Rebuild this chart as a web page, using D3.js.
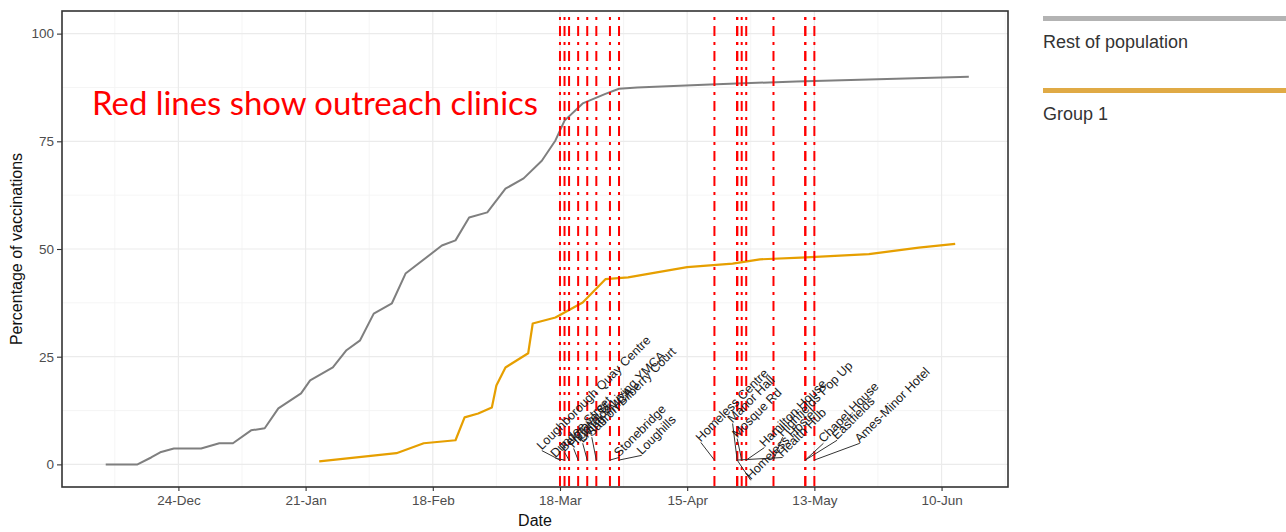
<!doctype html>
<html lang="en">
<head>
  <meta charset="utf-8">
  <title>Vaccination uptake and outreach clinics</title>
  <style>
    body { margin: 0; background: #fff; }
    svg { display: block; }
  </style>
</head>
<body>
  <script src="https://cdn.jsdelivr.net/npm/d3@7"></script>
  <script>
    // ---- data ----
    const restDates = ['2020-12-08', '2020-12-15', '2020-12-18', '2020-12-20', '2020-12-23', '2020-12-29',
                       '2021-01-02', '2021-01-05', '2021-01-09', '2021-01-12', '2021-01-15', '2021-01-20',
                       '2021-01-22', '2021-01-27', '2021-01-30', '2021-02-02', '2021-02-05', '2021-02-09',
                       '2021-02-12', '2021-02-20', '2021-02-23', '2021-02-26', '2021-03-02', '2021-03-06',
                       '2021-03-10', '2021-03-14', '2021-03-17', '2021-03-19', '2021-03-23', '2021-03-28',
                       '2021-03-31', '2021-04-04', '2021-04-20', '2021-05-09', '2021-06-16'];
    const restValues = [0, 0, 1.6, 2.8, 3.7, 3.7,
                        4.9, 4.9, 7.9, 8.4, 13.0, 16.5,
                        19.5, 22.5, 26.5, 28.8, 35.0, 37.4,
                        44.3, 50.8, 52.0, 57.3, 58.5, 64.0,
                        66.4, 70.5, 75.2, 79.8, 83.8, 86.0,
                        87.2, 87.5, 88.2, 88.9, 90.0];

    const groupDates = ['2021-01-24', '2021-02-10', '2021-02-16', '2021-02-23', '2021-02-25', '2021-02-28',
                        '2021-03-03', '2021-03-04', '2021-03-06', '2021-03-11', '2021-03-12', '2021-03-17',
                        '2021-03-23', '2021-03-28', '2021-04-02', '2021-04-08', '2021-04-15', '2021-04-25',
                        '2021-05-01', '2021-05-10', '2021-05-25', '2021-06-05', '2021-06-13'];
    const groupValues = [0.7, 2.6, 4.9, 5.6, 10.9, 11.8,
                         13.2, 18.3, 22.5, 25.8, 32.7, 34.1,
                         37.6, 43.0, 43.4, 44.5, 45.8, 46.6,
                         47.6, 48.0, 48.8, 50.3, 51.2];

    const clinicDates = ['2021-03-18', '2021-03-19', '2021-03-20', '2021-03-22', '2021-03-24', '2021-03-26',
                         '2021-03-29', '2021-03-31', '2021-04-21', '2021-04-26', '2021-04-27', '2021-04-28',
                         '2021-04-26', '2021-05-04', '2021-04-26', '2021-05-11', '2021-05-11', '2021-05-13'];
    const clinicNames = ['Loughborough Quay Centre', 'Dundee Street', 'Belgrave St', 'Highfields Living YMCA',
                         'Living YMCA', 'Saffron Bilberry Court', 'Stonebridge', 'Loughills',
                         'Homeless Centre', 'Manor Hall', 'Mosque Rd', 'Hamilton House',
                         'Homeless Hostel', 'Highfields Pop Up', 'Health Hub', 'Chapel House',
                         'Eastfields', 'Ames-Minor Hotel'];
    // where the repelled labels ended up (data units)
    const labelDates = ['2021-03-14', '2021-03-17', '2021-03-19', '2021-03-21', '2021-03-23', '2021-03-25',
                        '2021-03-31', '2021-04-05', '2021-04-18', '2021-04-25', '2021-04-26', '2021-05-02',
                        '2021-04-29', '2021-05-06', '2021-05-06', '2021-05-15', '2021-05-18', '2021-05-23'];
    const labelValues = [3.2, 1.4, 2.8, 3.7, 4.9, 6.3,
                         1.6, 2.1, 5.1, 9.5, 6.0, 3.9,
                         -3.7, 6.3, 1.6, 4.9, 5.6, 4.9];

    const xTickDates = ['2020-12-24', '2021-01-21', '2021-02-18', '2021-03-18', '2021-04-15', '2021-05-13', '2021-06-10'];
    const xTickLabels = ['24-Dec', '21-Jan', '18-Feb', '18-Mar', '15-Apr', '13-May', '10-Jun'];
    const yTicks = [0, 25, 50, 75, 100];

    const seriesNames = ['Rest of population', 'Group 1'];

    // ---- layout ----
    const w = 1286;
    const h = 532;
    const panel = { left: 62, right: 1008, top: 11, bottom: 487 };
    const lineColors = ['#7f7f7f', '#e69f00'];
    const legendColors = ['#b3b3b3', '#e0aa45'];

    const parse = d3.utcParse('%Y-%m-%d');

    const xScale = d3.scaleUtc()
                     .domain([new Date(Date.UTC(2020, 10, 28, 9)), new Date(Date.UTC(2021, 5, 24, 15))])
                     .range([panel.left, panel.right]);

    const yScale = d3.scaleLinear()
                     .domain([-5.25, 105.25])
                     .range([panel.bottom, panel.top]);

    const svg = d3.select('body')
                  .append('svg')
                  .attr('width', w)
                  .attr('height', h);

    svg.append('rect').attr('width', w).attr('height', h).attr('fill', '#fff');

    // Grid lines (major and minor, theme_bw style)
    const grid = svg.append('g');
    const xMajor = xTickDates.map(parse);
    const xMinor = [];
    for (let i = -1; i < xMajor.length; i++) {
      const a = i < 0 ? d3.utcDay.offset(xMajor[0], -28) : xMajor[i];
      xMinor.push(d3.utcDay.offset(a, 14));
    }
    const yMinor = yTicks.slice(0, -1).map((d) => d + 12.5);

    grid.selectAll('.xminor')
        .data(xMinor.filter((d) => xScale(d) > panel.left && xScale(d) < panel.right))
        .enter().append('line')
        .attr('x1', (d) => xScale(d)).attr('x2', (d) => xScale(d))
        .attr('y1', panel.top).attr('y2', panel.bottom)
        .attr('stroke', '#f2f2f2').attr('stroke-width', 0.8);
    grid.selectAll('.yminor')
        .data(yMinor)
        .enter().append('line')
        .attr('x1', panel.left).attr('x2', panel.right)
        .attr('y1', (d) => yScale(d)).attr('y2', (d) => yScale(d))
        .attr('stroke', '#f2f2f2').attr('stroke-width', 0.8);
    grid.selectAll('.xmajor')
        .data(xMajor)
        .enter().append('line')
        .attr('x1', (d) => xScale(d)).attr('x2', (d) => xScale(d))
        .attr('y1', panel.top).attr('y2', panel.bottom)
        .attr('stroke', '#ebebeb').attr('stroke-width', 1.2);
    grid.selectAll('.ymajor')
        .data(yTicks)
        .enter().append('line')
        .attr('x1', panel.left).attr('x2', panel.right)
        .attr('y1', (d) => yScale(d)).attr('y2', (d) => yScale(d))
        .attr('stroke', '#ebebeb').attr('stroke-width', 1.2);

    // Annotation text
    const note = svg.append('text')
                    .attr('x', 92)
                    .attr('y', 115)
                    .attr('fill', '#ff0000')
                    .style('font-family', 'Lato, "Open Sans", sans-serif')
                    .style('font-size', '30px')
                    .text('Red lines show outreach clinics');
    const noteLen = note.node().getComputedTextLength();
    note.style('font-size', (30 * 446 / noteLen).toFixed(2) + 'px');

    // Series lines
    const line = d3.line()
                   .x((d) => xScale(d[0]))
                   .y((d) => yScale(d[1]));

    const series = [
      d3.zip(restDates.map(parse), restValues),
      d3.zip(groupDates.map(parse), groupValues)
    ];

    svg.selectAll('.series')
       .data(series)
       .enter()
       .append('path')
       .attr('class', 'series')
       .attr('d', line)
       .attr('fill', 'none')
       .attr('stroke', (d, i) => lineColors[i])
       .attr('stroke-width', (d, i) => i === 0 ? 2 : 2.2)
       .attr('stroke-linejoin', 'round');

    // Outreach clinic lines (dot-dash)
    svg.selectAll('.clinic')
       .data(clinicDates.map(parse))
       .enter()
       .append('line')
       .attr('class', 'clinic')
       .attr('x1', (d) => xScale(d)).attr('x2', (d) => xScale(d))
       .attr('y1', panel.top).attr('y2', panel.bottom)
       .attr('stroke', '#ff0000')
       .attr('stroke-width', 2)
       .attr('stroke-dasharray', '10,6,3,6')
       .attr('stroke-dashoffset', 10);

    // Labels with leader segments
    const labels = clinicNames.map((name, i) => ({
      name: name,
      px: xScale(parse(clinicDates[i])),
      py: yScale(1),
      lx: xScale(parse(labelDates[i])),
      ly: yScale(labelValues[i])
    }));

    svg.selectAll('.seg')
       .data(labels)
       .enter()
       .append('line')
       .attr('x1', (d) => d.px).attr('y1', (d) => d.py)
       .attr('x2', (d) => d.lx).attr('y2', (d) => d.ly)
       .attr('stroke', '#333')
       .attr('stroke-width', 1);

    svg.selectAll('.lab')
       .data(labels)
       .enter()
       .append('text')
       .attr('transform', (d) => `translate(${d.lx},${d.ly}) rotate(-45)`)
       .attr('fill', '#1a1a1a')
       .style('font-family', '"Liberation Sans", Arial, sans-serif')
       .style('font-size', '12.5px')
       .text((d) => d.name);

    // Axes
    const xAxis = d3.axisBottom(xScale)
                    .tickValues(xMajor)
                    .tickFormat((d, i) => xTickLabels[i])
                    .tickSize(4)
                    .tickPadding(4);
    const yAxis = d3.axisLeft(yScale)
                    .tickValues(yTicks)
                    .tickSize(5)
                    .tickPadding(3);

    const gx = svg.append('g')
                  .attr('transform', `translate(0, ${panel.bottom})`)
                  .call(xAxis);
    const gy = svg.append('g')
                  .attr('transform', `translate(${panel.left}, 0)`)
                  .call(yAxis);

    [gx, gy].forEach((g) => {
      g.select('.domain').remove();
      g.selectAll('.tick line').attr('stroke', '#333').attr('stroke-width', 1.1);
      g.selectAll('.tick text')
       .attr('fill', '#4d4d4d')
       .style('font-family', '"Liberation Sans", Arial, sans-serif')
       .style('font-size', '13.5px');
    });

    // Panel border
    svg.append('rect')
       .attr('x', panel.left)
       .attr('y', panel.top)
       .attr('width', panel.right - panel.left)
       .attr('height', panel.bottom - panel.top)
       .attr('fill', 'none')
       .attr('stroke', '#333')
       .attr('stroke-width', 1.6);

    // Axis titles
    svg.append('text')
       .attr('x', (panel.left + panel.right) / 2)
       .attr('y', 526)
       .attr('text-anchor', 'middle')
       .attr('fill', '#111')
       .style('font-family', '"Liberation Sans", Arial, sans-serif')
       .style('font-size', '16px')
       .text('Date');

    svg.append('text')
       .attr('transform', `translate(22, ${(panel.top + panel.bottom) / 2}) rotate(-90)`)
       .attr('text-anchor', 'middle')
       .attr('fill', '#111')
       .style('font-family', '"Liberation Sans", Arial, sans-serif')
       .style('font-size', '16px')
       .text('Percentage of vaccinations');

    // Legend
    const legend = svg.append('g')
                      .attr('transform', 'translate(1043, 0)');
    const items = legend.selectAll('.item')
                        .data(seriesNames)
                        .enter()
                        .append('g')
                        .attr('transform', (d, i) => `translate(0, ${16 + i * 72})`);
    items.append('rect')
         .attr('width', w - 1043)
         .attr('height', 5)
         .attr('fill', (d, i) => legendColors[i]);
    items.append('text')
         .attr('y', 32)
         .attr('fill', '#333')
         .style('font-family', '"Liberation Sans", Arial, sans-serif')
         .style('font-size', '18px')
         .text((d) => d);
  </script>
</body>
</html>
